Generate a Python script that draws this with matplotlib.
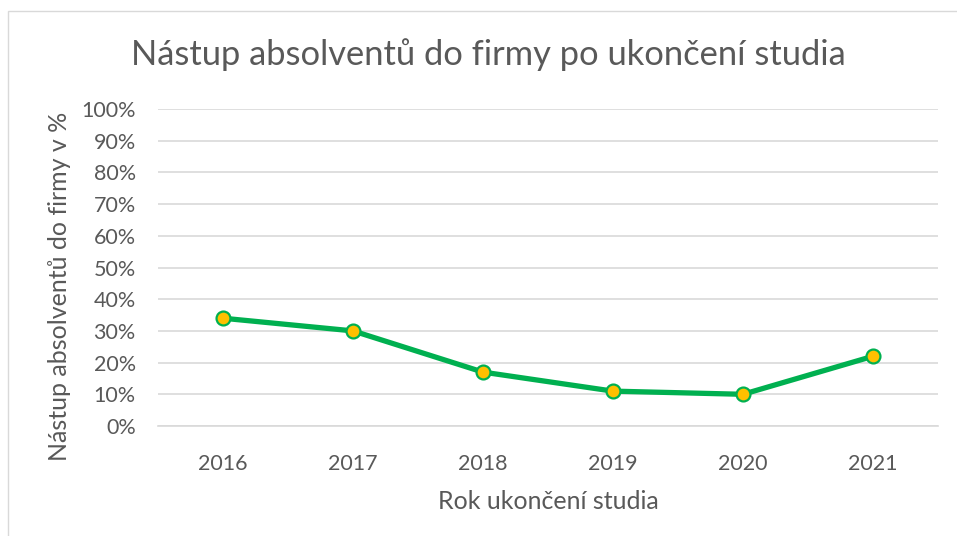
import matplotlib.pyplot as plt
from matplotlib.patches import Rectangle

# data
years = ['2016', '2017', '2018', '2019', '2020', '2021']
share = [34, 30, 17, 11, 10, 22]
y_ticks = list(range(0, 101, 10))

plt.rcParams['font.family'] = ['Lato', 'DejaVu Sans']
text_color = '#595959'

fig = plt.figure(figsize=(9.57, 5.36), dpi=100)
ax = fig.add_axes([158 / 957, 110 / 536, 780 / 957, 317 / 536])

# rámeček grafu
fig.patches.append(Rectangle((8 / 957, -0.1), 1.2, (536 - 11) / 536 + 0.1,
                             transform=fig.transFigure, fill=False,
                             edgecolor='#D9D9D9', linewidth=1))

x = range(len(years))
ax.plot(x, share, color='#00B050', linewidth=3.8, marker='o', markersize=10,
        markerfacecolor='#FFC000', markeredgecolor='#00B050', markeredgewidth=1.6,
        solid_capstyle='round', zorder=3)

ax.set_xlim(-0.5, len(years) - 0.5)
ax.set_ylim(0, 100)
ax.set_yticks(y_ticks)
ax.set_yticklabels([f'{t}%' for t in y_ticks])
ax.set_xticks(list(x))
ax.set_xticklabels(years)

ax.grid(axis='y', color='#D9D9D9', linewidth=1.2)
ax.set_axisbelow(True)
for s in ['top', 'right', 'left']:
    ax.spines[s].set_visible(False)
ax.spines['bottom'].set_color('#D9D9D9')
ax.spines['bottom'].set_linewidth(1.2)
ax.tick_params(length=0, labelsize=15.5, colors=text_color)
ax.tick_params(axis='x', pad=20)
ax.tick_params(axis='y', pad=16)

ax.set_xlabel('Rok ukončení studia', fontsize=18, color=text_color, labelpad=12)
ax.set_ylabel('Nástup absolventů do firmy v %', fontsize=18, color=text_color,
              va='center')
ax.yaxis.set_label_coords(-0.126, 0.44)
fig.text(488 / 957, 1 - 55 / 536, 'Nástup absolventů do firmy po ukončení studia',
         ha='center', va='center', fontsize=24.8, color=text_color)

fig.savefig('out.png', dpi=100)
